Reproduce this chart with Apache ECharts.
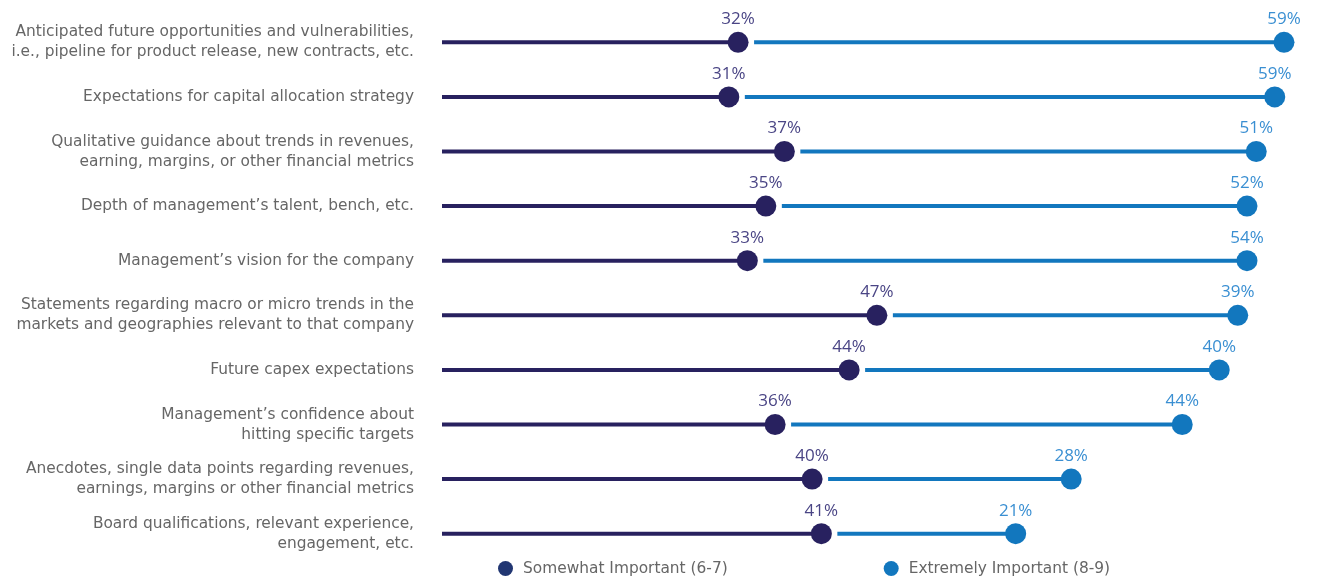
<!DOCTYPE html>
<html>
<head>
<meta charset="utf-8">
<script src="https://cdn.jsdelivr.net/npm/echarts@6/dist/echarts.min.js"></script>
<style>
  html, body { margin: 0; padding: 0; background: #ffffff; }
  #chart { width: 1330px; height: 581px; }
</style>
</head>
<body>
<div id="chart"></div>
<script>
// Survey items, top to bottom
const categories = [
  'Anticipated future opportunities and vulnerabilities,\ni.e., pipeline for product release, new contracts, etc.',
  'Expectations for capital allocation strategy',
  'Qualitative guidance about trends in revenues,\nearning, margins, or other financial metrics',
  'Depth of management\u2019s talent, bench, etc.',
  'Management\u2019s vision for the company',
  'Statements regarding macro or micro trends in the\nmarkets and geographies relevant to that company',
  'Future capex expectations',
  'Management\u2019s confidence about\nhitting specific targets',
  'Anecdotes, single data points regarding revenues,\nearnings, margins or other financial metrics',
  'Board qualifications, relevant experience,\nengagement, etc.'
];
// Share of respondents (%)
const somewhatImportant = [32, 31, 37, 35, 33, 47, 44, 36, 40, 41];
const extremelyImportant = [59, 59, 51, 52, 54, 39, 40, 44, 28, 21];

const seriesNames = ['Somewhat Important (6-7)', 'Extremely Important (8-9)'];
const NAVY = '#28215f';
const BLUE = '#1277be';
const FONT = '"DejaVu Sans", sans-serif';
const LABEL_FONT = '"Open Sans", sans-serif';

const chart = echarts.init(document.getElementById('chart'));

// The second segment continues from where the first ends
const darkPoints = somewhatImportant.map((v, i) => [v, i, v]);
const bluePoints = extremelyImportant.map((v, i) => [somewhatImportant[i] + v, i, v]);
const segData = somewhatImportant.map((v, i) => [i, v, v + extremelyImportant[i]]);

chart.setOption({
  animation: false,
  textStyle: { fontFamily: FONT },
  grid: { left: 442, right: 9, top: 15, bottom: 20 },
  xAxis: {
    type: 'value', min: 0, max: 95,
    show: false
  },
  yAxis: {
    type: 'category',
    data: categories,
    inverse: true,
    axisLine: { show: false },
    axisTick: { show: false },
    splitLine: { show: false },
    axisLabel: {
      margin: 28,
      color: '#666666',
      fontSize: 15.4,
      lineHeight: 20,
      padding: [3, 0, 0, 0],
      fontFamily: FONT,
      align: 'right'
    }
  },
  legend: {
    bottom: 0,
    left: 493,
    itemGap: 156,
    itemWidth: 15,
    itemHeight: 15,
    icon: 'circle',
    textStyle: { color: '#666666', fontSize: 15.4, fontFamily: FONT, padding: [0, 0, 0, 5] },
    data: [
      { name: seriesNames[0], itemStyle: { color: '#213672' } },
      { name: seriesNames[1], itemStyle: { color: BLUE } }
    ]
  },
  series: [
    {
      type: 'custom',
      silent: true,
      z: 1,
      data: segData,
      renderItem: function (params, api) {
        const idx = api.value(0);
        const p0 = api.coord([0, idx]);
        const p1 = api.coord([api.value(1), idx]);
        const p2 = api.coord([api.value(2), idx]);
        return {
          type: 'group',
          children: [
            { type: 'line', shape: { x1: p0[0], y1: p0[1], x2: p1[0], y2: p1[1] },
              style: { stroke: NAVY, lineWidth: 4 } },
            { type: 'line', shape: { x1: p1[0] + 16, y1: p1[1], x2: p2[0], y2: p2[1] },
              style: { stroke: BLUE, lineWidth: 4 } }
          ]
        };
      }
    },
    {
      name: seriesNames[0],
      type: 'scatter',
      z: 3,
      symbol: 'circle',
      symbolSize: 21,
      itemStyle: { color: NAVY, opacity: 1 },
      data: darkPoints,
      label: {
        show: true, position: 'top', distance: 4,
        color: '#4a4585', fontSize: 17, fontFamily: LABEL_FONT,
        formatter: p => p.value[2] + '%'
      }
    },
    {
      name: seriesNames[1],
      type: 'scatter',
      z: 3,
      symbol: 'circle',
      symbolSize: 21,
      itemStyle: { color: BLUE, opacity: 1 },
      data: bluePoints,
      label: {
        show: true, position: 'top', distance: 4,
        color: '#3a8fd2', fontSize: 17, fontFamily: LABEL_FONT,
        formatter: p => p.value[2] + '%'
      }
    }
  ]
});
</script>
</body>
</html>
